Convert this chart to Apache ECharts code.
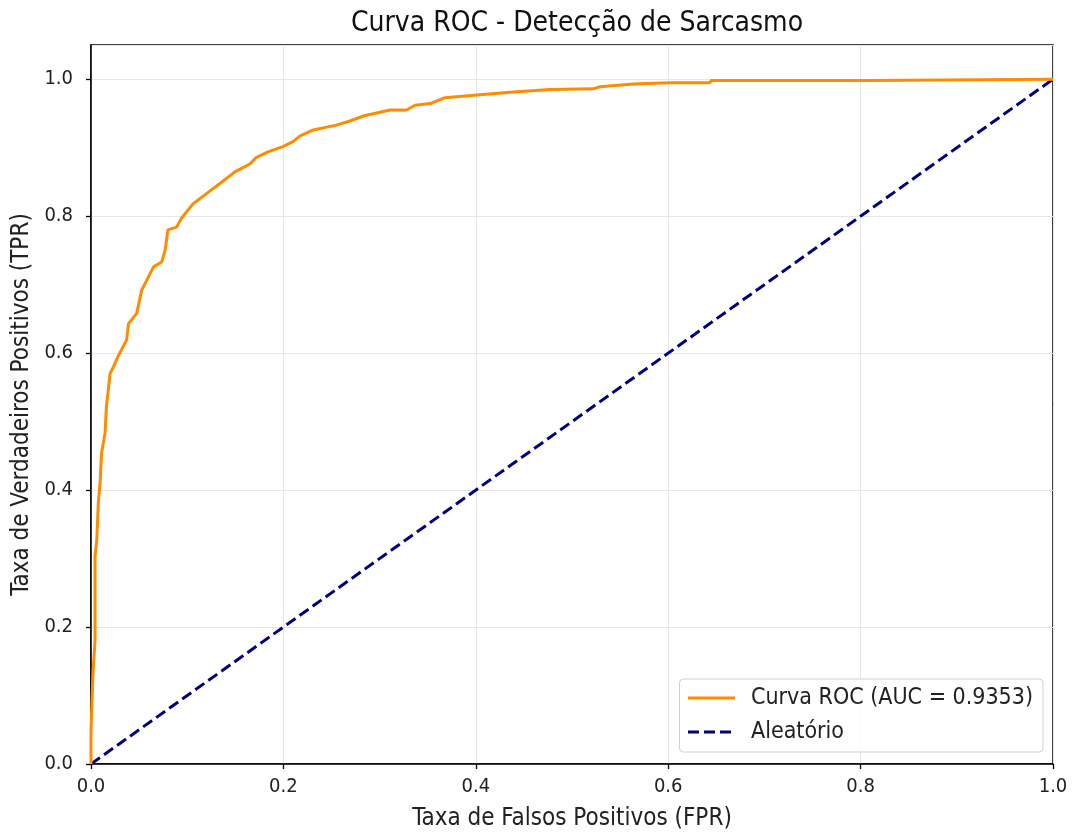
<!DOCTYPE html>
<html>
<head>
<meta charset="utf-8">
<script src="https://cdn.jsdelivr.net/npm/echarts@6/dist/echarts.min.js"></script>
<style>
  html, body { margin: 0; padding: 0; background: #fff; }
  #chart { width: 1078px; height: 832px; }
</style>
</head>
<body>
<div id="chart"></div>
<script>
// ROC curve
var rocFpr = [0, 0, 0.001, 0.002, 0.0042, 0.0042, 0.006, 0.0076, 0.0094, 0.011, 0.0146, 0.016, 0.018, 0.0198,
  0.0233, 0.028, 0.037, 0.039, 0.0475, 0.0527, 0.065, 0.0735, 0.077, 0.080, 0.089, 0.094, 0.106, 0.120, 0.136,
  0.150, 0.165, 0.172, 0.184, 0.200, 0.210, 0.217, 0.231, 0.255, 0.269, 0.285, 0.311, 0.328, 0.337, 0.354,
  0.368, 0.401, 0.436, 0.477, 0.522, 0.529, 0.564, 0.602, 0.643, 0.645, 0.810, 0.812, 1.0];
var rocTpr = [0, 0.05, 0.09, 0.13, 0.181, 0.303, 0.327, 0.381, 0.410, 0.454, 0.483, 0.522, 0.546, 0.570,
  0.580, 0.595, 0.619, 0.643, 0.658, 0.692, 0.726, 0.733, 0.750, 0.780, 0.784, 0.797, 0.818, 0.833, 0.850,
  0.865, 0.876, 0.886, 0.894, 0.902, 0.909, 0.917, 0.926, 0.933, 0.939, 0.947, 0.955, 0.955, 0.962, 0.965,
  0.973, 0.977, 0.981, 0.985, 0.986, 0.989, 0.993, 0.995, 0.995, 0.998, 0.998, 1.0, 1.0];
// diagonal reference line
var randFpr = [0, 1];
var randTpr = [0, 1];

var rocName = 'Curva ROC (AUC = 0.9353)';
var randName = 'Aleatório';

function zip(xs, ys) {
  return xs.map(function (x, i) { return [x, ys[i]]; });
}

// the reference text is narrow, the condensed face fits it
var font = '"DejaVu Sans Condensed", "DejaVu Sans"';
var chart = echarts.init(document.getElementById('chart'));

chart.setOption({
  animation: false,
  textStyle: { fontFamily: font },
  title: {
    text: 'Curva ROC - Detecção de Sarcasmo',
    left: 572, top: 5, textAlign: 'center',
    textStyle: { fontFamily: font, fontSize: 28, fontWeight: 'normal', color: '#111' }
  },
  grid: {
    left: 91, right: 25, top: 45, bottom: 68,
    outerBoundsMode: 'none', containLabel: false,
    show: true, borderColor: '#000', borderWidth: 1.5, backgroundColor: 'transparent'
  },
  legend: {
    right: 35, bottom: 80, orient: 'vertical',
    itemWidth: 47, itemHeight: 3, itemGap: 10,
    padding: [7, 10, 8, 7],
    backgroundColor: 'rgba(255,255,255,0.8)',
    borderColor: '#d0d0d0', borderWidth: 1, borderRadius: 4,
    itemStyle: { opacity: 0 },
    lineStyle: { width: 3 },
    textStyle: { fontFamily: font, fontSize: 23, lineHeight: 24, color: '#222', padding: [0, 0, 0, 11] },
    data: [rocName, randName]
  },
  xAxis: {
    type: 'value', min: 0, max: 1, interval: 0.2,
    name: 'Taxa de Falsos Positivos (FPR)', nameLocation: 'middle', nameGap: 43,
    nameTextStyle: { fontFamily: font, fontSize: 24, color: '#222' },
    axisLine: { show: true, lineStyle: { color: '#000', width: 1.5 } },
    axisTick: { show: true, length: 5, lineStyle: { color: '#000', width: 1.3 } },
    axisLabel: { fontFamily: font, fontSize: 20, color: '#222', margin: 13,
      formatter: function (v) { return v.toFixed(1); } },
    splitLine: { show: true, lineStyle: { color: '#e6e6e6', width: 1 } }
  },
  yAxis: {
    type: 'value', min: 0, max: 1.05, interval: 0.2,
    name: 'Taxa de Verdadeiros Positivos (TPR)', nameLocation: 'middle', nameGap: 56,
    nameTextStyle: { fontFamily: font, fontSize: 24, color: '#222' },
    axisLine: { show: true, lineStyle: { color: '#000', width: 1.5 } },
    axisTick: { show: true, length: 5, lineStyle: { color: '#000', width: 1.3 } },
    axisLabel: { fontFamily: font, fontSize: 20, color: '#222', margin: 18, showMaxLabel: false,
      formatter: function (v) { return v > 1.001 ? '' : v.toFixed(1); } },
    splitLine: { show: true, lineStyle: { color: '#e6e6e6', width: 1 } }
  },
  series: [
    {
      name: rocName, type: 'line', data: zip(rocFpr, rocTpr),
      symbol: 'none', smooth: false, z: 3,
      lineStyle: { color: '#ff8c00', width: 3 },
      itemStyle: { color: '#ff8c00' }
    },
    {
      name: randName, type: 'line', data: zip(randFpr, randTpr),
      symbol: 'none', z: 2,
      lineStyle: { color: '#000080', width: 3, type: [11, 5] },
      itemStyle: { color: '#000080' }
    }
  ]
});
</script>
</body>
</html>
